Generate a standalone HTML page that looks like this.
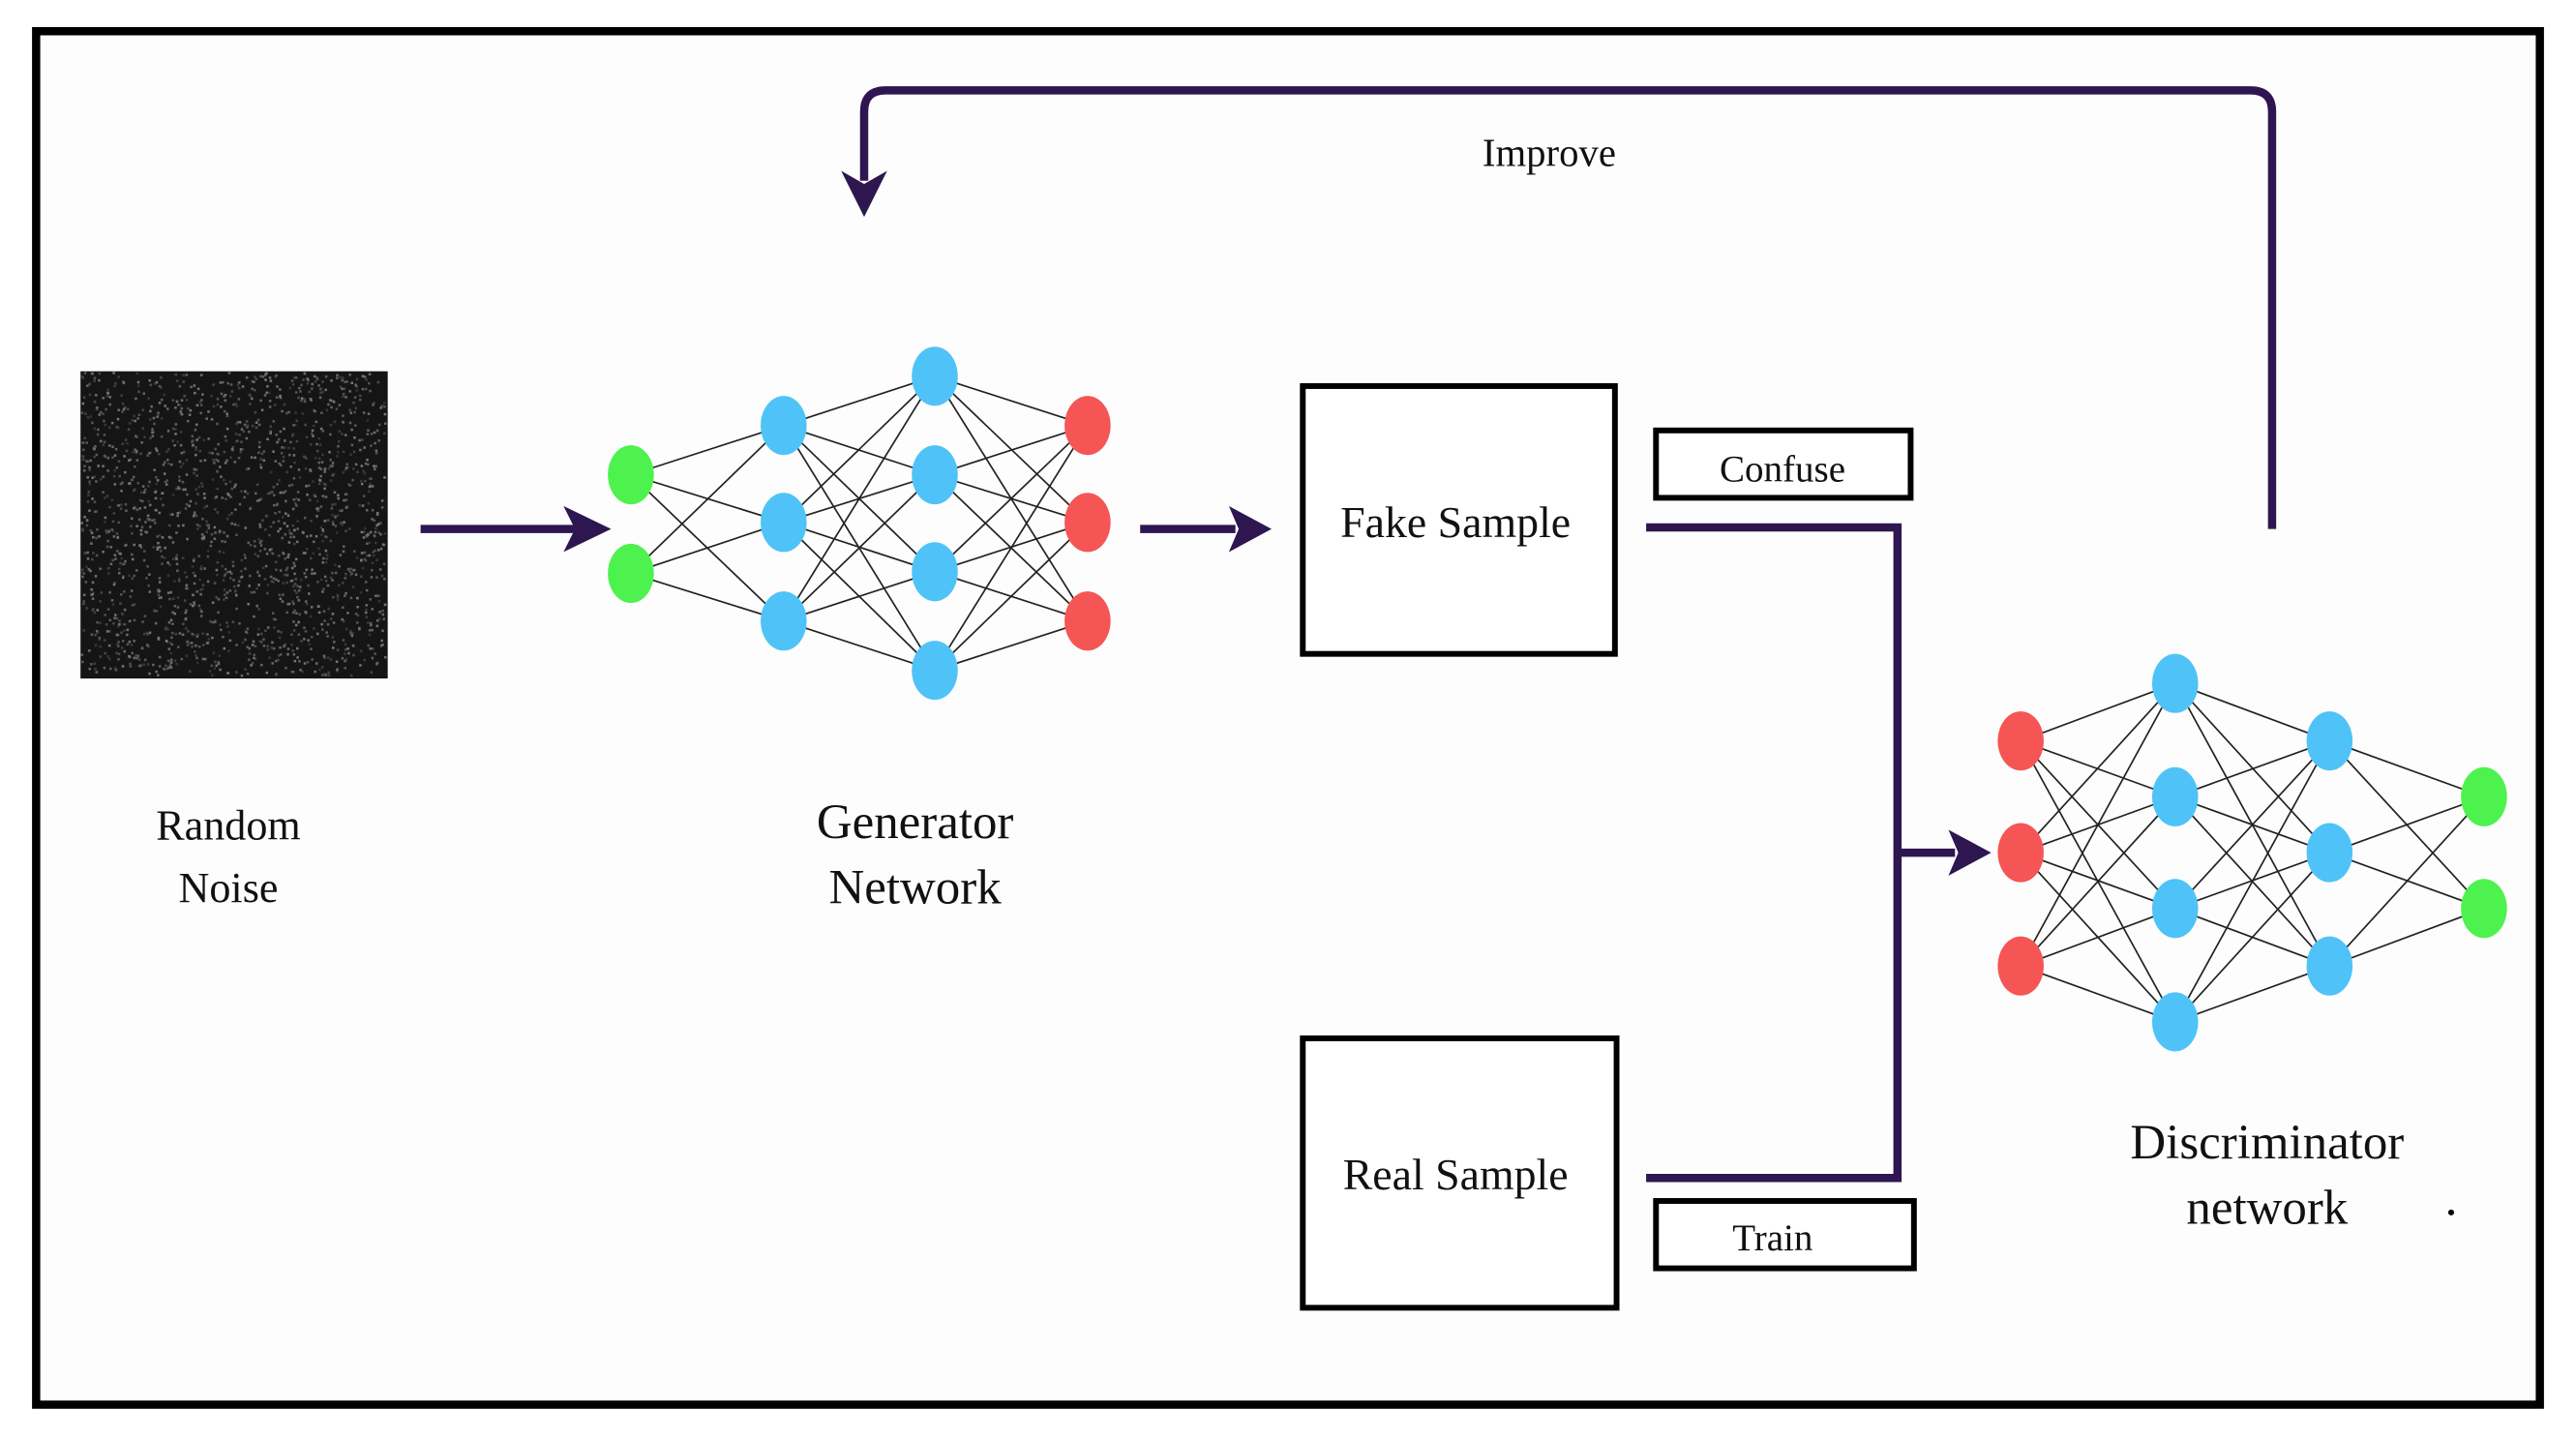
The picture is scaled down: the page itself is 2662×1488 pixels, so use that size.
<!DOCTYPE html>
<html><head><meta charset="utf-8"><style>
html,body{margin:0;padding:0;background:#fff;}
svg{display:block}
text{font-family:"Liberation Serif",serif;fill:#111}
</style></head><body>
<svg width="2662" height="1488" viewBox="0 0 1568 876.5" preserveAspectRatio="none" xmlns="http://www.w3.org/2000/svg">
<rect x="0" y="0" width="1568" height="876.5" fill="#fff"/>
<rect x="22" y="19" width="1524" height="836" fill="#fdfdfd" stroke="#000" stroke-width="5"/>
<!-- noise -->
<rect x="49" y="226" width="187" height="187" fill="#151515"/>
<g id="noise" fill="#777"></g>
<!-- arrows -->
<g stroke="#2e1650" stroke-width="5" fill="none">
<line x1="256" y1="322" x2="350" y2="322"/>
<line x1="694" y1="322" x2="752" y2="322"/>
<polyline points="1002,321 1155,321 1155,717 1002,717"/>
<line x1="1155" y1="519" x2="1190" y2="519"/>
<path d="M1383,322 L1383,68 Q1383,55 1370,55 L539,55 Q526,55 526,68 L526,110"/>
</g>
<g fill="#2e1650">
<polygon points="372,322 343,308 350,322 343,336"/>
<polygon points="774,322 748,308 754,322 748,336"/>
<polygon points="1212,519 1186,505 1192,519 1186,533"/>
<polygon points="526,132 512,104 526,112 540,104"/>
</g>
<!-- boxes -->
<g fill="#fff" stroke="#000" stroke-width="3.5">
<rect x="793" y="235" width="190" height="163"/>
<rect x="793" y="632" width="191" height="164"/>
<rect x="1008" y="262" width="155" height="41"/>
<rect x="1008" y="731" width="157" height="41"/>
</g>
<text x="886" y="327" font-size="27" text-anchor="middle">Fake Sample</text>
<text x="886" y="724" font-size="27" text-anchor="middle">Real Sample</text>
<text x="1085" y="293" font-size="23" text-anchor="middle">Confuse</text>
<text x="1079" y="761" font-size="23" text-anchor="middle">Train</text>
<text x="943" y="101" font-size="24" text-anchor="middle">Improve</text>
<text x="139" y="511" font-size="26" text-anchor="middle">Random</text>
<text x="139" y="549" font-size="26" text-anchor="middle">Noise</text>
<text x="557" y="510" font-size="30" text-anchor="middle">Generator</text>
<text x="557" y="550" font-size="30" text-anchor="middle">Network</text>
<text x="1380" y="705" font-size="30" text-anchor="middle">Discriminator</text>
<text x="1380" y="745" font-size="30" text-anchor="middle">network</text>
<circle cx="1492" cy="738" r="1.8" fill="#000"/>
<g id="nets"></g>
</svg>
<script>
(function(){
var ns="http://www.w3.org/2000/svg";
var nets=document.getElementById('nets');
function net(layers){
 var g=document.createElementNS(ns,'g');
 for(var i=0;i<layers.length-1;i++){
  var a=layers[i],b=layers[i+1];
  a.ys.forEach(function(y1){b.ys.forEach(function(y2){
   var l=document.createElementNS(ns,'line');
   l.setAttribute('x1',a.x);l.setAttribute('y1',y1);l.setAttribute('x2',b.x);l.setAttribute('y2',y2);
   l.setAttribute('stroke','#222');l.setAttribute('stroke-width','1');g.appendChild(l);
  });});
 }
 layers.forEach(function(L){L.ys.forEach(function(y){
  var e=document.createElementNS(ns,'ellipse');
  e.setAttribute('cx',L.x);e.setAttribute('cy',y);e.setAttribute('rx',14);e.setAttribute('ry',18);
  e.setAttribute('fill',L.c);g.appendChild(e);
 });});
 nets.appendChild(g);
}
var G='#4ef24e',B='#4fc3f7',R='#f55555';
net([{x:384,ys:[289,349],c:G},{x:477,ys:[259,318,378],c:B},{x:569,ys:[229,289,348,408],c:B},{x:662,ys:[259,318,378],c:R}]);
net([{x:1230,ys:[451,519,588],c:R},{x:1324,ys:[416,485,553,622],c:B},{x:1418,ys:[451,519,588],c:B},{x:1512,ys:[485,553],c:G}]);
var n=document.getElementById('noise');var s=12345;
function r(){s=(s*1103515245+12345)%2147483648;return s/2147483648;}
for(var k=0;k<1800;k++){
 var q=document.createElementNS(ns,'rect');
 q.setAttribute('x',49+r()*185);q.setAttribute('y',226+r()*185);
 q.setAttribute('width',1.5);q.setAttribute('height',1.5);
 q.setAttribute('fill-opacity',(0.3+r()*0.7).toFixed(2));n.appendChild(q);
}
})();
</script>
</body></html>
